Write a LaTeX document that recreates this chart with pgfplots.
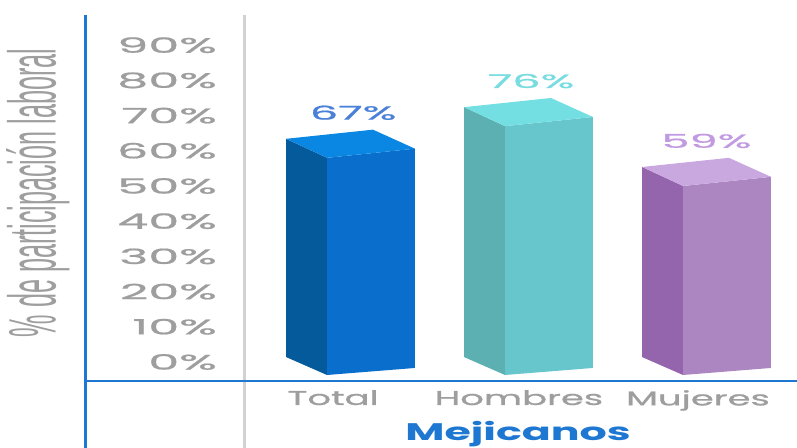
\documentclass[border=0pt]{standalone}
\usepackage{fontspec}
\setmainfont{Poppins}
\newfontfamily\medfont{Poppins}[FakeBold=0.8]
\newfontfamily\narrowfont{Liberation Sans}
\usepackage{graphicx}
\usepackage{pgfplots}
\pgfplotsset{compat=1.18}

\definecolor{axblue}{HTML}{1E78D2}
\definecolor{axgray}{HTML}{D2D2D2}
\definecolor{txtgray}{HTML}{9E9E9E}
\definecolor{totS}{HTML}{045A9A}
\definecolor{totF}{HTML}{0A6FCC}
\definecolor{totT}{HTML}{0987E3}
\definecolor{homS}{HTML}{5CB0B1}
\definecolor{homF}{HTML}{66C6CC}
\definecolor{homT}{HTML}{74DFE2}
\definecolor{mujS}{HTML}{9464AD}
\definecolor{mujF}{HTML}{AB86C1}
\definecolor{mujT}{HTML}{C9A7DF}
\definecolor{lblTot}{HTML}{4A80D8}
\definecolor{lblHom}{HTML}{79DCE0}
\definecolor{lblMuj}{HTML}{C29AE2}

% the picture is stretched sideways, so is its text
\newcommand\W[1]{\scalebox{1.85}[1]{#1}}
\newcommand\Wd[1]{\scalebox{2.35}[1]{#1}}

% one 3-D column: #1 category position, #2 value, #3 side, #4 front, #5 top
\newcommand\column[5]{%
  \pgfmathsetmacro\xs{#1-0.477}%
  \pgfmathsetmacro\xl{#1-0.247}%
  \pgfmathsetmacro\xr{#1+0.247}%
  \pgfmathsetmacro\xb{#1+0.011}%
  \pgfmathsetmacro\yb{#2-1}%
  \pgfmathsetmacro\ys{#2-3.6}%
  \pgfmathsetmacro\yr{#2-6.4}%
  \pgfmathsetmacro\yl{#2-9}%
  \edef\tmp{%
    \noexpand\addplot[fill=#3,draw=none] coordinates
      {(\xs,1.4) (\xl,-3.7) (\xl,\yl) (\xs,\ys)} -- cycle;
    \noexpand\addplot[fill=#4,draw=none] coordinates
      {(\xl,-3.7) (\xr,-1.7) (\xr,\yr) (\xl,\yl)} -- cycle;
    \noexpand\addplot[fill=#5,draw=none] coordinates
      {(\xs,\ys) (\xb,\yb) (\xr,\yr) (\xl,\yl)} -- cycle;
  }\tmp
}

\begin{document}
\begin{tikzpicture}
\begin{axis}[
  scale only axis,
  width=552pt, height=366pt,
  xmin=-0.7079, xmax=2.3933,
  ymin=-5.398, ymax=98.58,
  clip=false,
  axis line style={draw=none},
  major tick length=0pt,
  ytick={0,10,...,90},
  yticklabels={\Wd{0\%},\Wd{10\%},\Wd{20\%},\Wd{30\%},\Wd{40\%},\Wd{50\%},\Wd{60\%},\Wd{70\%},\Wd{80\%},\Wd{90\%}},
  yticklabel style={anchor=east, inner sep=0pt, xshift=-28pt,
    font=\medfont\fontsize{21}{24}\selectfont, text=txtgray},
  xtick={-0.213,0.831,1.837},
  xticklabels={\W{Total},\W{Hombres},\W{Mujeres}},
  xticklabel style={anchor=north, inner sep=0pt, yshift=-9pt,
    font=\medfont\fontsize{20}{24}\selectfont, text=txtgray},
]
\column{0}{67}{totS}{totF}{totT}
\column{1}{76}{homS}{homF}{homT}
\column{2}{59}{mujS}{mujF}{mujT}

\node[text=lblTot, font=\medfont\fontsize{19}{22}\selectfont] at (axis cs:-0.10,70.8) {\Wd{67\%}};
\node[text=lblHom, font=\medfont\fontsize{19}{22}\selectfont] at (axis cs:0.90,79.8) {\Wd{76\%}};
\node[text=lblMuj, font=\medfont\fontsize{19}{22}\selectfont] at (axis cs:1.885,62.8) {\Wd{59\%}};

\draw[axblue, line width=3pt] (axis cs:-1.6067,98.58) -- (axis cs:-1.6067,-24.43);
\draw[axgray, line width=3pt] (axis cs:-0.7079,98.58) -- (axis cs:-0.7079,-24.43);
\draw[axblue, line width=2pt] (axis cs:-1.6067,-5.398) -- (axis cs:2.3933,-5.398);

\node[anchor=base, text=axblue, font=\bfseries\fontsize{24}{28}\selectfont]
  at (axis cs:0.826,-22.2) {\scalebox{1.78}[1]{Mejicanos}};
\node[text=txtgray] at (axis cs:-1.871,48.0)
  {\scalebox{2.4}[1]{\rotatebox{90}{\scalebox{0.9}[1]{\narrowfont\fontsize{28}{30}\selectfont \% de participación laboral}}}};

\coordinate (BL) at (axis cs:-2.0843,-24.43);
\coordinate (TR) at (axis cs:2.3933,102.84);
\end{axis}
\pgfresetboundingbox
\path (BL) rectangle (TR);
\end{tikzpicture}
\end{document}
